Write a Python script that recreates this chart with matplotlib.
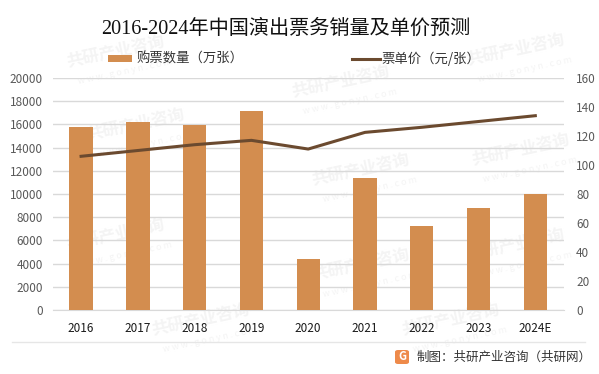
import matplotlib
matplotlib.use("Agg")
from matplotlib import pyplot as plt
from matplotlib.patches import FancyBboxPatch
from matplotlib.lines import Line2D

plt.rcParams["font.family"] = ["Noto Sans CJK SC", "DejaVu Sans"]

W, H = 599, 374

years = ["2016", "2017", "2018", "2019", "2020", "2021", "2022", "2023", "2024E"]
ticket_sales = [15800, 16200, 15950, 17150, 4400, 11400, 7200, 8800, 10000]
ticket_price = [106, 110, 114, 117, 111, 122.5, 126, 130, 134]

left_ticks = list(range(0, 20001, 2000))
right_ticks = list(range(0, 161, 20))

bar_color = "#D38D4F"
line_color = "#6B4A2F"
grid_color = "#D9D9D9"
mark_color = "#F4F4F4"

fig = plt.figure(figsize=(W / 100, H / 100), dpi=100)

# watermark sits under the chart axes
marks = [(65, 52), (290, 82), (465, 50), (85, 125), (310, 170), (470, 150),
         (65, 235), (310, 265), (465, 245), (150, 320), (400, 320)]
for mx, my in marks:
    fig.text(mx / W, 1 - my / H, "共研产业咨询", fontsize=12, fontweight="bold", color=mark_color,
             rotation=12, ha="left", va="center", zorder=0)
    fig.text((mx + 12) / W, 1 - (my + 20) / H, "w w w . g o n y n . c o m", fontsize=6.5, color=mark_color,
             rotation=12, ha="left", va="center", zorder=0)

ax = fig.add_axes([52.7 / W, 1 - 310 / H, 511 / W, 232 / H], zorder=2)
ax.patch.set_alpha(0)
ax.bar(years, ticket_sales, width=0.41, color=bar_color, zorder=3)
ax.set_xlim(-0.5, 8.5)
ax.set_ylim(0, 20000)
ax.set_yticks(left_ticks)
ax.grid(axis="y", color=grid_color, linewidth=1, zorder=0)
ax.tick_params(axis="both", length=0)
ax.tick_params(axis="y", labelsize=8.5, labelcolor="#595959", pad=7)
ax.tick_params(axis="x", labelsize=8.5, labelcolor="#1A1A1A", pad=9)
for s in ["top", "left", "right"]:
    ax.spines[s].set_visible(False)
ax.spines["bottom"].set_color(grid_color)

ax2 = ax.twinx()
ax2.set_zorder(3)
ax2.patch.set_alpha(0)
ax2.plot(years, ticket_price, color=line_color, linewidth=2.2, zorder=4)
ax2.set_ylim(0, 160)
ax2.set_yticks(right_ticks)
ax2.tick_params(axis="y", length=0, labelsize=8.5, labelcolor="#595959", pad=9)
for s in ["top", "left", "right", "bottom"]:
    ax2.spines[s].set_visible(False)

fig.text(286 / W, 1 - 29 / H, "2016-2024年中国演出票务销量及单价预测", fontsize=14.5,
         family=["Liberation Serif", "Noto Sans CJK SC"], color="#111111", ha="center", va="center", zorder=5)

# legend placed by hand
fig.patches.append(plt.Rectangle((108 / W, 1 - 62 / H), 24 / W, 7 / H, transform=fig.transFigure,
                                 facecolor=bar_color, edgecolor="none", zorder=5))
fig.text(136 / W, 1 - 59 / H, "购票数量（万张）", fontsize=9.6, color="#333333", va="center", zorder=5)
fig.add_artist(Line2D([352 / W, 380 / W], [1 - 59 / H, 1 - 59 / H], color=line_color, linewidth=2.2, zorder=5))
fig.text(381 / W, 1 - 59 / H, "票单价（元/张）", fontsize=9.6, color="#333333", va="center", zorder=5)

# footer
fig.add_artist(Line2D([12 / W, 585 / W], [1 - 342 / H, 1 - 342 / H], color="#E6E6E6", linewidth=1))
fig.patches.append(FancyBboxPatch((395 / W, 1 - 364 / H), 14 / W, 14 / H, transform=fig.transFigure,
                                  boxstyle="round,pad=0,rounding_size=0.005", facecolor="#EE8A4A",
                                  edgecolor="none", zorder=5))
fig.text(402 / W, 1 - 357 / H, "G", fontsize=8, fontweight="bold", color="white", ha="center", va="center", zorder=6)
fig.text(417 / W, 1 - 357 / H, "制图：共研产业咨询（共研网）", fontsize=9, color="#333333", va="center", zorder=5)

fig.savefig("out.png", dpi=100)
